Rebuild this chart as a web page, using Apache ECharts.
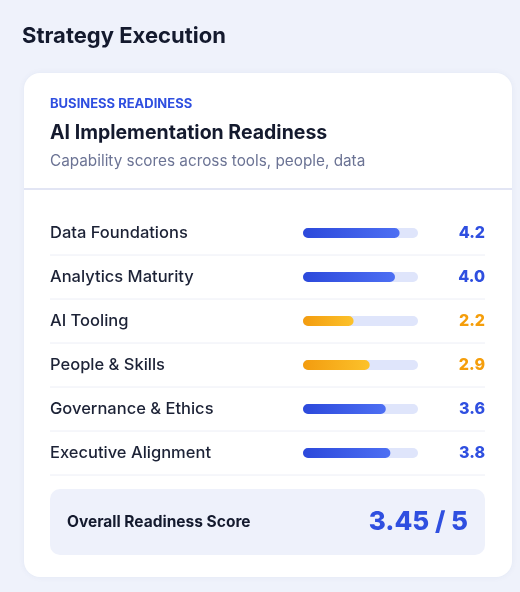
<!DOCTYPE html>
<html><head><meta charset="utf-8">
<script src="https://cdn.jsdelivr.net/npm/echarts@6/dist/echarts.min.js"></script>
<style>html,body{margin:0;padding:0;background:#eff2fb}#c{width:520px;height:592px}</style>
</head><body><div id="c"></div>
<script>
const categories = ['Data Foundations','Analytics Maturity','AI Tooling','People & Skills','Governance & Ethics','Executive Alignment'];
const scores = [4.2, 4.0, 2.2, 2.9, 3.6, 3.8];
const maxScore = 5;
const overall = '3.45 / 5';
const F = 'Inter, "Noto Sans", sans-serif';
const isLow = v => v < 3;
const blue = new echarts.graphic.LinearGradient(0,0,1,0,[{offset:0,color:'#2c49db'},{offset:1,color:'#4d6ff3'}]);
const orange = new echarts.graphic.LinearGradient(0,0,1,0,[{offset:0,color:'#f39c0f'},{offset:1,color:'#fcc22b'}]);
const seps = [255,299,343,387,431,475].map(y=>({type:'line',shape:{x1:50,y1:y,x2:485,y2:y},style:{stroke:'#eceef6',lineWidth:1},z:1}));
const chart = echarts.init(document.getElementById('c'));
chart.setOption({
  backgroundColor:'#eff2fb',
  graphic:[
    {type:'text',x:22,y:36,style:{text:'Strategy Execution',font:'700 22px '+F,fill:'#141a2e',verticalAlign:'middle'},z:0},
    {type:'rect',shape:{x:24,y:73,width:488,height:504,r:16},style:{fill:'#fff',shadowBlur:6,shadowColor:'rgba(40,60,140,0.06)'},z:0},
    {type:'text',x:50,y:104,style:{text:'BUSINESS READINESS',font:'700 13px '+F,fill:'#2f4fe0',letterSpacing:1.2,verticalAlign:'middle'},z:1},
    {type:'text',x:50,y:133,style:{text:'AI Implementation Readiness',font:'700 19.5px '+F,fill:'#141a2e',verticalAlign:'middle'},z:1},
    {type:'text',x:50,y:161,style:{text:'Capability scores across tools, people, data',font:'400 15.3px '+F,fill:'#6b7394',verticalAlign:'middle'},z:1},
    {type:'line',shape:{x1:24,y1:189,x2:512,y2:189},style:{stroke:'#d8ddf0',lineWidth:1.5},z:1},
    ...seps,
    {type:'rect',shape:{x:50,y:489,width:435,height:66,r:10},style:{fill:'#eef1fb'},z:1},
    {type:'text',x:67,y:522,style:{text:'Overall Readiness Score',font:'700 15.5px '+F,fill:'#141a2e',verticalAlign:'middle'},z:2},
    {type:'text',x:468,y:522,style:{text:overall,font:'800 26px '+F,fill:'#2f4fe0',align:'right',verticalAlign:'middle'},z:2}
  ],
  grid:{left:303,width:115,top:211,height:264},
  xAxis:{type:'value',min:0,max:maxScore,show:false},
  yAxis:[
    {type:'category',inverse:true,data:categories,axisLine:{show:false},axisTick:{show:false},
     axisLabel:{align:'left',margin:253,fontFamily:F,fontSize:16.5,fontWeight:500,color:'#1c2236'}},
    {type:'category',inverse:true,position:'right',data:scores.map(v=>v.toFixed(1)),axisLine:{show:false},axisTick:{show:false},
     axisLabel:{align:'right',margin:67,fontFamily:F,fontSize:16,fontWeight:800,
       formatter:(v)=>isLow(+v)?'{o|'+v+'}':'{b|'+v+'}',
       rich:{o:{color:'#f59e0b',fontFamily:F,fontSize:16,fontWeight:800},b:{color:'#2f4fe0',fontFamily:F,fontSize:16,fontWeight:800}}}}
  ],
  series:[{type:'bar',barWidth:10,showBackground:true,
    backgroundStyle:{color:'#dfe5fb',borderRadius:5},
    data:scores.map(v=>({value:v,itemStyle:{color:isLow(v)?orange:blue,borderRadius:5}})),
    silent:true}]
});
</script></body></html>
